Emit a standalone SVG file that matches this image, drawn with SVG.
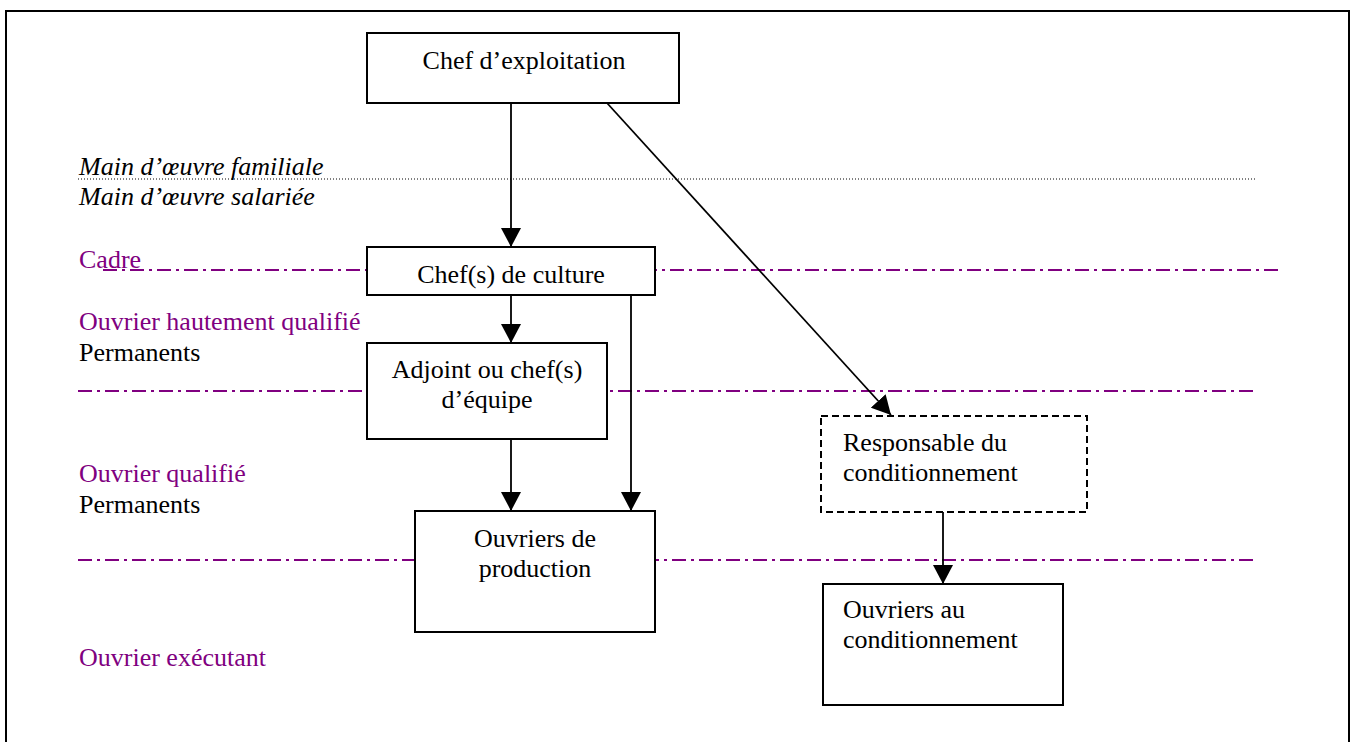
<svg xmlns="http://www.w3.org/2000/svg" width="1353" height="742" viewBox="0 0 1353 742">
  <defs>
    <marker id="arrow" viewBox="0 0 19 20" refX="19" refY="10" markerWidth="19" markerHeight="20" markerUnits="userSpaceOnUse" orient="auto">
      <path d="M0,0 L19,10 L0,20 Z" fill="#000"/>
    </marker>
    <style>
      text { font-family: "Liberation Serif", "Times New Roman", serif; font-size: 26px; fill: #000; }
      .level { fill: #800080; }
      .lab { font-style: italic; }
      .mid { text-anchor: middle; }
      .box { fill: #fff; stroke: #000; stroke-width: 2; }
      .dashed { stroke-dasharray: 7 4; }
      .sep { stroke: #800080; stroke-width: 2; stroke-dasharray: 14 5 3 5; fill: none; }
      .dot { stroke: #000; stroke-width: 1; stroke-dasharray: 1 2; fill: none; }
      .conn { stroke: #000; stroke-width: 1.8; fill: none; marker-end: url(#arrow); }
    </style>
  </defs>

  <rect width="1353" height="742" fill="#fff"/>

  <!-- page frame -->
  <path d="M6,742 V11 H1349 V742" fill="none" stroke="#000" stroke-width="2"/>

  <!-- level separators -->
  <g id="separators">
    <line class="dot" x1="78" y1="179" x2="1255" y2="179"/>
    <line class="sep" x1="103" y1="270" x2="1280" y2="270"/>
    <line class="sep" x1="78" y1="391" x2="1255" y2="391"/>
    <line class="sep" x1="78" y1="560" x2="1255" y2="560"/>
  </g>

  <!-- level labels -->
  <g id="labels">
    <text class="lab" x="79" y="175">Main d’œuvre familiale</text>
    <text class="lab" x="79" y="205">Main d’œuvre salariée</text>
    <text class="level" x="79" y="268">Cadre</text>
    <text class="level" x="79" y="330">Ouvrier hautement qualifié</text>
    <text x="79" y="361">Permanents</text>
    <text class="level" x="79" y="482">Ouvrier qualifié</text>
    <text x="79" y="513">Permanents</text>
    <text class="level" x="79" y="666">Ouvrier exécutant</text>
  </g>

  <!-- connectors -->
  <g id="connectors">
    <line class="conn" x1="511" y1="103" x2="511" y2="247"/>
    <line class="conn" x1="607" y1="103" x2="891" y2="415"/>
    <line class="conn" x1="511" y1="295" x2="511" y2="343"/>
    <line class="conn" x1="631" y1="295" x2="631" y2="511"/>
    <line class="conn" x1="511" y1="439" x2="511" y2="511"/>
    <line class="conn" x1="943" y1="512" x2="943" y2="584"/>
  </g>

  <!-- nodes -->
  <g id="chef-exploitation">
    <rect class="box" x="367" y="33" width="312" height="70"/>
    <text class="mid" x="524" y="69">Chef d’exploitation</text>
  </g>
  <g id="chef-culture">
    <rect class="box" x="367" y="247" width="288" height="48"/>
    <text class="mid" x="511" y="283">Chef(s) de culture</text>
  </g>
  <g id="adjoint">
    <rect class="box" x="367" y="343" width="240" height="96"/>
    <text class="mid" x="487" y="378">Adjoint ou chef(s)</text>
    <text class="mid" x="487" y="408">d’équipe</text>
  </g>
  <g id="ouvriers-production">
    <rect class="box" x="415" y="511" width="240" height="121"/>
    <text class="mid" x="535" y="547">Ouvriers de</text>
    <text class="mid" x="535" y="577">production</text>
  </g>
  <g id="responsable-conditionnement">
    <rect class="box dashed" x="821" y="416" width="266" height="96"/>
    <text x="843" y="451">Responsable du</text>
    <text x="843" y="481">conditionnement</text>
  </g>
  <g id="ouvriers-conditionnement">
    <rect class="box" x="823" y="584" width="240" height="121"/>
    <text x="843" y="618">Ouvriers au</text>
    <text x="843" y="648">conditionnement</text>
  </g>
</svg>
